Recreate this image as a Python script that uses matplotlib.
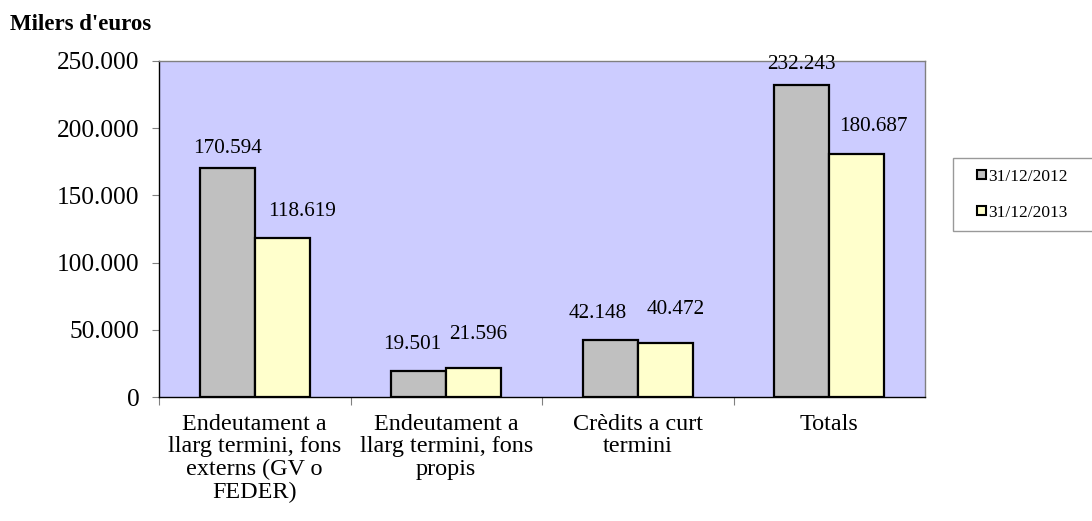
import matplotlib
matplotlib.use("Agg")
import matplotlib.pyplot as plt
import numpy as np
from matplotlib.patches import Patch, Rectangle
from matplotlib.legend_handler import HandlerPatch

categories = ["Endeutament a\nllarg termini, fons\nexterns (GV o\nFEDER)",
              "Endeutament a\nllarg termini, fons\npropis",
              "Crèdits a curt\ntermini",
              "Totals"]
values_2012 = [170594, 19501, 42148, 232243]
values_2013 = [118619, 21596, 40472, 180687]
series_labels = ["31/12/2012", "31/12/2013"]
colors = ["#C0C0C0", "#FFFFCC"]

# label placement offsets (pixels) mimicking the original chart's label layout
offsets_2012 = [(0, 15), (-7, 22), (-13, 22), (0, 16)]
offsets_2013 = [(20, 22), (4, 29), (10, 29), (17, 23)]

plt.rcParams['font.family'] = ['Liberation Serif', 'DejaVu Serif']

def fmt(v):
    return f"{v:,.0f}".replace(",", ".")

fig = plt.figure(figsize=(10.92, 5.21), dpi=100)
ax = fig.add_axes([0.1456, 0.238, 0.7015, 0.645])
ax.set_facecolor("#CCCCFF")

x = np.arange(len(categories))
w = 0.287
b1 = ax.bar(x - w/2, values_2012, w, color=colors[0], edgecolor="black", linewidth=1.6, zorder=3)
b2 = ax.bar(x + w/2, values_2013, w, color=colors[1], edgecolor="black", linewidth=1.6, zorder=3)

for bars, vals, offs in ((b1, values_2012, offsets_2012), (b2, values_2013, offsets_2013)):
    for bar, v, off in zip(bars, vals, offs):
        ax.annotate(fmt(v), (bar.get_x() + bar.get_width()/2, v),
                    xytext=off, textcoords="offset pixels",
                    ha="center", va="baseline", fontsize=15.3, zorder=5,
                    annotation_clip=False)

ax.set_xlim(-0.5, len(categories) - 0.5)
ax.set_ylim(0, 250000)
ax.set_yticks(np.arange(0, 250001, 50000))
ax.set_yticklabels([fmt(v) for v in np.arange(0, 250001, 50000)], fontsize=18.2)
ax.set_xticks(np.arange(len(categories)) - 0.5, minor=False)
ax.set_xticklabels([])
ax.set_xticks(x, minor=True)
ax.set_xticklabels(categories, minor=True, fontsize=17.4, linespacing=1.1)
ax.tick_params(axis="x", which="minor", length=0, pad=12)
ax.tick_params(axis="x", which="major", length=6, direction="out", color="#808080")
ax.tick_params(axis="y", length=5, direction="out", color="#808080", pad=9)

ax.spines["left"].set_color("black")
ax.spines["bottom"].set_color("black")
ax.spines["top"].set_color("#808080")
ax.spines["right"].set_color("#808080")
for s in ax.spines.values():
    s.set_linewidth(1.0)

fig.text(0.009, 0.942, "Milers d'euros", fontsize=16.5, fontweight="bold")

def square_patch(legend, orig_handle, xdescent, ydescent, width, height, fontsize):
    s = 6.8
    return Rectangle((width - s - xdescent, (height - s) / 2 - ydescent), s, s)

handles = [Patch(facecolor=c, edgecolor="black", linewidth=1.5) for c in colors]
leg = fig.legend(handles, series_labels, loc="upper left",
                 bbox_to_anchor=(0.8727, 0.6967, 0.13, 0.0), mode="expand",
                 borderaxespad=0, fontsize=12.5,
                 frameon=True, fancybox=False, edgecolor="#808080",
                 handlelength=1.3, handleheight=0.7,
                 handletextpad=0.15, labelspacing=1.15, borderpad=0.6,
                 handler_map={Patch: HandlerPatch(patch_func=square_patch)})
leg.get_frame().set_linewidth(1.0)

fig.savefig("out.png", dpi=100)
